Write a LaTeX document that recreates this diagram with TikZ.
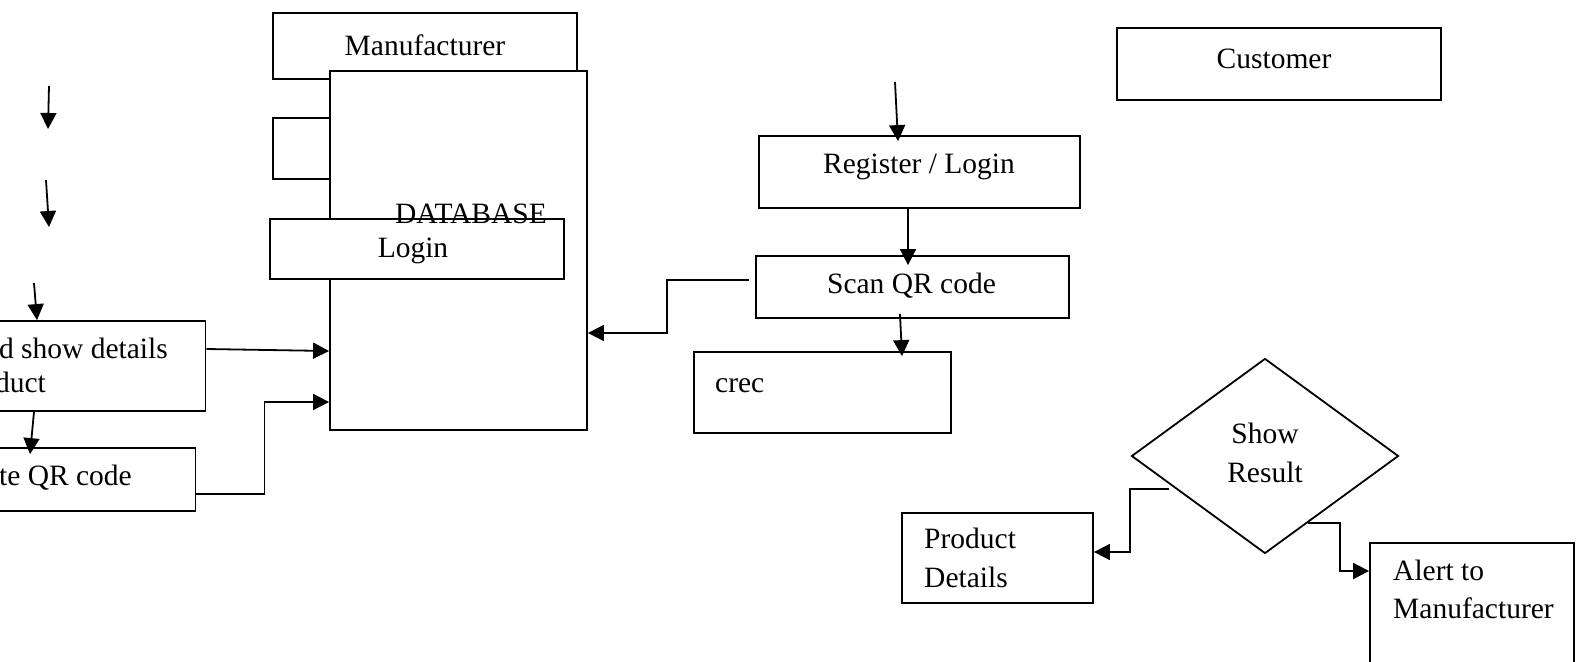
\documentclass[tikz,border=0pt]{standalone}
\usepackage{fontspec}
\setmainfont{Liberation Serif}
\usetikzlibrary{arrows.meta,shapes.geometric}
\begin{document}
\begin{tikzpicture}[x=1pt,y=-1pt,
  box/.style={draw,line width=1.8pt,fill=white,inner sep=0pt,rectangle},
  txt/.style={inner sep=0pt,font=\fontsize{29.5}{36}\selectfont},
  conn/.style={line width=1.8pt,-{Triangle[length=16pt,width=16pt]}}]
\useasboundingbox (0,0) rectangle (1576,661);
% left cluster
\node[box,minimum width=304pt,minimum height=66.6pt] (man) at (425,46) {};
\node[box,minimum width=66pt,minimum height=61pt] (small) at (306,148.5) {};
\node[box,minimum width=257pt,minimum height=359pt] (db) at (458.5,250.5) {};
\node[box,minimum width=294.5pt,minimum height=60pt] (login) at (417,249) {};
\node[txt,anchor=base] (mant) at (425,56) {Manufacturer};
\node[txt,anchor=base] (dbt) at (471,223) {DATABASE};
\node[txt,anchor=base] (logint) at (413,257) {Login};
\node[box,minimum width=265.5pt,minimum height=90pt] (sd) at (72.75,366) {};
\node[txt,anchor=base east] (sdt1) at (168,358) {d show details};
\node[txt,anchor=base east] (sdt2) at (46,392) {duct};
\node[box,minimum width=255.5pt,minimum height=63pt] (qr) at (67.75,479.5) {};
\node[txt,anchor=base east] (qrt) at (132,485) {te QR code};
% right cluster
\node[box,minimum width=324pt,minimum height=72pt] (cust) at (1279,64) {};
\node[txt,anchor=base] (custt) at (1274,68) {Customer};
\node[box,minimum width=321pt,minimum height=72pt] (reg) at (919.5,172) {};
\node[txt,anchor=base] (regt) at (919,173) {Register / Login};
\node[box,minimum width=313pt,minimum height=62pt] (scan) at (912.5,287) {};
\node[txt,anchor=base] (scant) at (911.5,293) {Scan QR code};
\node[box,minimum width=257pt,minimum height=81pt] (crec) at (822.5,392.5) {};
\node[txt,anchor=base west] (crect) at (715,392) {crec};
\node[draw,line width=1.8pt,shape=diamond,inner sep=0pt,minimum width=267pt,minimum height=195pt] (dia) at (1265,456) {};
\node[txt,anchor=base] (diat1) at (1265,443) {Show};
\node[txt,anchor=base] (diat2) at (1265,482) {Result};
\node[box,minimum width=191pt,minimum height=90pt] (pd) at (997.5,558) {};
\node[txt,anchor=base west] (pdt1) at (924,548) {Product};
\node[txt,anchor=base west] (pdt2) at (924,587) {Details};
\node[box,minimum width=204pt,minimum height=157pt] (alert) at (1472,621.5) {};
\node[txt,anchor=base west] (alt1) at (1393,580) {Alert to};
\node[txt,anchor=base west] (alt2) at (1393,618) {Manufacturer};
% free-ended arrows
\coordinate (a1s) at (49,86);
\coordinate (a1e) at (48,129);
\coordinate (a2s) at (46,180);
\coordinate (a2e) at (49,227);
\coordinate (a3s) at (34,283);
\coordinate (a7s) at (895,82);
\draw[conn] (a1s) -- (a1e);
\draw[conn] (a2s) -- (a2e);
\draw[conn] (a3s) -- ([xshift=-35.75pt]sd.north);
% connectors
\draw[conn] ([yshift=17pt]sd.east) -- ([yshift=-100.5pt]db.west);
\draw[conn] ([xshift=-38.75pt]sd.south) -- ([xshift=-37.75pt,yshift=-7pt]qr.north);
\draw[conn] ([yshift=-14.5pt]qr.east) -- ++(68,0) |- ([yshift=-151.5pt]db.west);
\draw[conn] (a7s) -- ([xshift=-21.5pt,yshift=-6pt]reg.north);
\draw[conn] ([xshift=-11.5pt]reg.south) -- ([xshift=-4.5pt,yshift=-10pt]scan.north);
\draw[conn] ([xshift=-6pt,yshift=7pt]scan.west) -- ++(-82,0) |- ([yshift=-82.5pt]db.east);
\draw[conn] ([xshift=-12.5pt,yshift=5pt]scan.south) -- ([xshift=79.5pt,yshift=-5pt]crec.north);
\draw[conn] ([xshift=-96pt,yshift=-33pt]dia.center) -- ++(-39,0) |- ([yshift=6pt]pd.east);
\draw[conn] ([xshift=43pt,yshift=-67pt]dia.center) -- ++(32,0) |- ([yshift=50.5pt]alert.west);
\end{tikzpicture}
\end{document}
